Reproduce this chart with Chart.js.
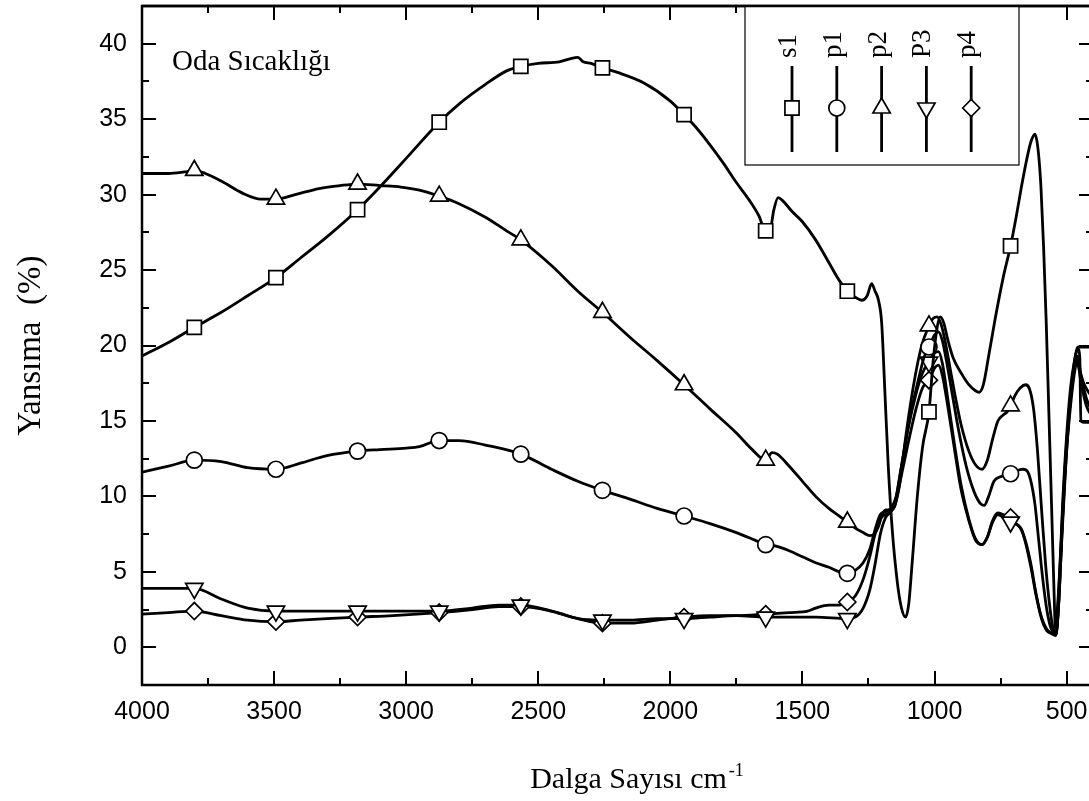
<!DOCTYPE html>
<html><head><meta charset="utf-8">
<script src="https://cdn.jsdelivr.net/npm/chart.js@4.4.1/dist/chart.umd.min.js"></script>
<style>
html,body{margin:0;padding:0;background:#fff;overflow:hidden;}
#wrap{position:absolute;left:0;top:0;width:1100px;height:801px;}
</style></head><body>
<div id="wrap"><canvas id="c" width="1100" height="801" style="width:1100px;height:801px"></canvas></div>
<script>
// ---- data ----
const seriesLabels = ['s1', 'p1', 'p2', 'P3', 'p4'];
const markerWavenumbers = [3802, 3493, 3184, 2875, 2566, 2257, 1948, 1639, 1330, 1021, 712];
const xTickValues = [4000, 3500, 3000, 2500, 2000, 1500, 1000, 500];
const yTickValues = [0, 5, 10, 15, 20, 25, 30, 35, 40];
const chartTitle = 'Oda Sıcaklığı';
const xAxisTitle = 'Dalga Sayısı cm';
const xAxisTitleSup = '-1';
const yAxisTitle = 'Yansıma  (%)';

const s1X = [4000,3900,3802,3700,3600,3493,3400,3300,3184,3100,3000,2875,2800,2700,2620,2566,2500,2420,2380,2350,2330,2300,2257,2200,2100,2000,1948,1900,1850,1800,1750,1700,1665,1639,1622,1608,1592,1575,1540,1500,1450,1400,1360,1330,1300,1275,1255,1238,1225,1212,1200,1188,1175,1160,1140,1125,1110,1098,1085,1065,1045,1021,1005,990,978,965,950,930,900,870,845,831,815,795,770,740,712,690,670,650,635,620,608,597,587,577,567,557,548,541,533,520,505,490,475,462,455,400];
const s1Y = [19.3,20.2,21.2,22.2,23.3,24.5,25.8,27.2,29.0,30.5,32.4,34.8,36.0,37.3,38.2,38.5,38.7,38.8,39.0,39.1,38.8,38.7,38.4,38.1,37.4,36.2,35.3,34.4,33.3,32.1,30.8,29.6,28.6,27.6,27.7,29.0,29.8,29.6,28.9,28.2,27.0,25.5,24.3,23.6,23.2,23.0,23.3,24.1,23.6,23.0,21.5,17.0,12.0,7.8,4.2,2.6,2.0,2.8,5.5,10.0,13.3,15.6,19.0,21.2,21.9,21.5,20.4,19.2,18.2,17.4,17.0,16.9,17.4,19.3,21.8,24.5,26.6,28.6,30.6,32.4,33.5,34.0,33.0,30.5,26.5,21.5,15.5,9.5,4.0,0.8,2.0,6.5,11.5,15.5,18.3,19.7,19.9,19.9];

const p1X = [4000,3900,3802,3700,3600,3493,3400,3300,3184,3100,3000,2950,2875,2800,2700,2566,2450,2350,2257,2150,2050,1948,1850,1750,1680,1639,1600,1550,1500,1450,1400,1360,1330,1300,1270,1245,1225,1205,1185,1165,1145,1120,1090,1060,1040,1021,1000,985,970,955,935,910,880,850,825,812,795,775,750,730,712,690,665,650,635,620,605,590,575,560,545,535,520,505,490,475,462,450,435,420,400];
const p1Y = [11.6,12.0,12.4,12.3,11.9,11.8,12.2,12.7,13.0,13.1,13.2,13.3,13.7,13.7,13.4,12.8,11.8,11.0,10.4,9.8,9.2,8.7,8.2,7.6,7.1,6.8,6.7,6.4,6.0,5.6,5.3,5.0,4.9,5.1,5.6,6.5,7.8,8.8,9.0,9.2,10.0,12.5,15.5,17.8,19.2,19.9,20.7,20.9,20.3,19.0,17.0,14.5,12.0,10.3,9.5,9.4,10.0,11.0,11.3,11.4,11.5,11.7,11.8,11.7,11.0,9.5,7.0,4.5,2.5,1.3,0.9,2.5,7.0,12.0,15.5,18.0,19.0,18.3,17.5,17.0,16.5];

const p2X = [4000,3900,3840,3802,3760,3700,3620,3550,3493,3420,3330,3250,3184,3100,3020,2950,2875,2800,2700,2620,2566,2450,2350,2257,2150,2050,1948,1850,1750,1690,1639,1615,1595,1550,1500,1450,1400,1360,1330,1300,1270,1245,1228,1212,1198,1182,1165,1150,1130,1110,1080,1050,1021,1005,990,975,960,940,920,900,870,845,820,800,780,760,740,725,712,695,675,655,640,625,610,595,580,565,552,541,530,515,500,485,470,458,450,446,430,400];
const p2Y = [31.4,31.4,31.5,31.6,31.4,30.9,30.1,29.7,29.7,30.0,30.4,30.6,30.7,30.6,30.5,30.3,29.9,29.4,28.5,27.6,27.0,25.3,23.6,22.2,20.5,19.0,17.4,15.8,14.2,13.1,12.4,12.9,12.8,12.0,11.0,10.0,9.2,8.7,8.3,7.9,7.6,7.4,7.5,8.0,8.8,9.1,9.1,9.4,11.0,13.8,17.3,19.9,21.3,21.8,21.9,21.4,20.3,18.4,16.5,14.8,13.0,12.1,11.8,12.4,13.8,15.0,15.4,15.6,16.0,16.7,17.2,17.4,17.1,15.8,13.0,9.2,5.6,2.9,1.3,0.8,3.5,9.5,14.0,17.2,19.0,19.8,19.2,15.0,14.9,14.9];

const p3X = [4000,3900,3802,3700,3600,3493,3400,3300,3184,3050,2875,2750,2650,2566,2450,2350,2257,2150,2050,1948,1850,1750,1639,1550,1450,1330,1300,1270,1245,1225,1205,1185,1165,1150,1130,1100,1070,1045,1021,1000,985,970,950,925,900,870,845,820,800,780,760,740,725,712,695,675,655,635,615,595,575,555,541,530,515,500,485,470,460,445,425,400];
const p3Y = [3.9,3.9,3.9,3.2,2.6,2.4,2.4,2.4,2.4,2.4,2.4,2.6,2.8,2.8,2.4,1.9,1.8,1.8,1.9,1.9,2.0,2.1,2.0,2.0,2.0,1.9,2.0,2.6,3.8,5.5,7.5,8.6,9.0,9.5,11.5,14.5,16.8,18.2,18.9,19.5,19.6,18.8,16.5,13.5,10.8,8.5,7.2,6.8,7.3,8.3,8.8,8.6,8.4,8.3,8.2,7.9,7.0,5.5,3.5,2.0,1.2,0.9,0.8,3.0,9.0,13.5,16.5,18.5,19.3,18.0,16.5,15.5];

const p4X = [4000,3900,3802,3700,3600,3493,3400,3300,3184,3050,2875,2750,2650,2566,2450,2350,2257,2150,2050,1948,1850,1750,1639,1550,1480,1450,1400,1360,1330,1300,1270,1245,1225,1205,1185,1165,1150,1130,1100,1070,1045,1021,1000,985,970,950,925,900,870,845,820,800,780,760,740,725,712,700,685,670,655,635,615,595,575,555,541,530,515,500,485,470,460,445,425,400];
const p4Y = [2.2,2.3,2.4,2.1,1.8,1.7,1.8,1.9,2.0,2.1,2.3,2.5,2.7,2.7,2.4,1.9,1.6,1.6,1.8,2.0,2.1,2.1,2.2,2.3,2.4,2.6,2.8,2.8,3.0,3.4,4.5,6.0,7.5,8.5,8.8,9.0,9.4,11.0,13.5,15.8,17.2,17.7,18.5,18.7,18.0,16.0,13.2,10.5,8.4,7.1,6.8,7.3,8.4,8.9,8.8,8.7,8.6,8.3,8.1,7.8,6.9,5.3,3.4,1.9,1.1,0.9,0.8,2.8,8.5,13.0,16.0,18.2,19.0,17.5,16.0,15.2];

// ---- presentation ----
const SERIF = '"Liberation Serif", "Times New Roman", serif';
const SANS = '"Liberation Sans", Arial, sans-serif';
const seriesXs = [s1X, p1X, p2X, p3X, p4X];
const seriesYs = [s1Y, p1Y, p2Y, p3Y, p4Y];
const markerStyles = [
  {pointStyle: 'rect', rotation: 0, radius: 10},
  {pointStyle: 'circle', rotation: 0, radius: 8},
  {pointStyle: 'triangle', rotation: 0, radius: 10},
  {pointStyle: 'triangle', rotation: 180, radius: 10},
  {pointStyle: 'rectRot', rotation: 0, radius: 8.5}
];
const markerSet = new Set(markerWavenumbers);

const datasets = seriesLabels.map((label, i) => ({
  label,
  data: seriesXs[i].map((x, k) => ({x, y: seriesYs[i][k]})),
  borderColor: '#000',
  borderWidth: 2.8,
  backgroundColor: '#fff',
  fill: false,
  cubicInterpolationMode: 'monotone',
  pointStyle: markerStyles[i].pointStyle,
  pointRotation: markerStyles[i].rotation,
  pointRadius: (c) => (c.raw && markerSet.has(c.raw.x)) ? markerStyles[i].radius : 0,
  pointHoverRadius: 0,
  pointBorderWidth: 1.7,
  pointBorderColor: '#000',
  pointBackgroundColor: '#fff'
}));

const decor = {
  id: 'decor',
  afterDraw(chart) {
    const {ctx, chartArea: a, scales: {x, y}} = chart;
    ctx.save();
    ctx.strokeStyle = '#000';
    // ticks (inward, all sides)
    ctx.lineWidth = 2;
    ctx.beginPath();
    for (let v = 500; v < 4000; v += 250) {
      const px = Math.round(x.getPixelForValue(v));
      const len = (v % 500 === 0) ? 14 : 7;
      ctx.moveTo(px, a.bottom); ctx.lineTo(px, a.bottom - len);
      ctx.moveTo(px, a.top); ctx.lineTo(px, a.top + len);
    }
    for (let v = 0; v <= 40; v += 2.5) {
      const py = Math.round(y.getPixelForValue(v));
      const len = (v % 5 === 0) ? 14 : 7;
      ctx.moveTo(a.left, py); ctx.lineTo(a.left + len, py);
      ctx.moveTo(a.right, py); ctx.lineTo(a.right - len, py);
    }
    ctx.stroke();
    // frame
    ctx.lineWidth = 2.5;
    ctx.strokeRect(a.left, a.top, a.right - a.left, a.bottom - a.top);

    // in-plot title
    ctx.fillStyle = '#000';
    ctx.font = '29px ' + SERIF;
    ctx.textAlign = 'left';
    ctx.textBaseline = 'alphabetic';
    ctx.fillText(chartTitle, 172, 70);

    // x axis title with superscript
    ctx.font = '30px ' + SERIF;
    const w1 = ctx.measureText(xAxisTitle).width;
    ctx.font = '18px ' + SERIF;
    const w2 = ctx.measureText(xAxisTitleSup).width;
    const x0 = 637 - (w1 + w2 + 2) / 2;
    ctx.font = '30px ' + SERIF;
    ctx.fillText(xAxisTitle, x0, 788);
    ctx.font = '18px ' + SERIF;
    ctx.fillText(xAxisTitleSup, x0 + w1 + 2, 776);

    // legend box
    const bx = 745, by = a.top, bw = 274, bh = 159;
    ctx.lineWidth = 1.2;
    ctx.fillStyle = '#fff';
    ctx.fillRect(bx, by, bw, bh);
    ctx.strokeRect(bx, by, bw, bh);
    chart.data.datasets.forEach((ds, i) => {
      const cx = 792 + i * 44.8;
      ctx.strokeStyle = '#000';
      ctx.lineWidth = 2.8;
      ctx.beginPath();
      ctx.moveTo(cx, 66); ctx.lineTo(cx, 152);
      ctx.stroke();
      ctx.fillStyle = '#fff';
      ctx.lineWidth = 1.7;
      Chart.helpers.drawPoint(ctx, {
        pointStyle: markerStyles[i].pointStyle,
        rotation: markerStyles[i].rotation,
        radius: markerStyles[i].radius,
        borderWidth: 1.7
      }, cx, 108);
      ctx.save();
      ctx.fillStyle = '#000';
      ctx.font = '27px ' + SERIF;
      ctx.translate(cx + 4, 58);
      ctx.rotate(-Math.PI / 2);
      ctx.textAlign = 'left';
      ctx.textBaseline = 'alphabetic';
      ctx.fillText(ds.label, 0, 0);
      ctx.restore();
    });
    // frame top edge over legend box
    ctx.strokeStyle = '#000';
    ctx.lineWidth = 2.5;
    ctx.beginPath();
    ctx.moveTo(a.left, a.top); ctx.lineTo(a.right, a.top);
    ctx.stroke();
    ctx.restore();
  }
};

new Chart(document.getElementById('c'), {
  type: 'line',
  data: {datasets},
  plugins: [decor],
  options: {
    responsive: false,
    animation: false,
    devicePixelRatio: 1,
    events: [],
    layout: {padding: {top: 6, right: 7, left: 0, bottom: 0}},
    plugins: {legend: {display: false}, tooltip: {enabled: false}, title: {display: false}},
    scales: {
      x: {
        type: 'linear', reverse: true, min: 400, max: 4000,
        afterBuildTicks: (s) => { s.ticks = xTickValues.map(v => ({value: v})); },
        afterFit: (s) => { s.height = 116; s.paddingLeft = 0; s.paddingRight = 0; s.paddingTop = 0; s.paddingBottom = 0; },
        grid: {display: false, drawTicks: false},
        border: {display: false},
        ticks: {font: {family: SANS, size: 25}, color: '#000', padding: 12, maxRotation: 0, autoSkip: false,
                callback: (v) => String(v)}
      },
      y: {
        type: 'linear', min: -2.5, max: 42.5,
        afterBuildTicks: (s) => { s.ticks = yTickValues.map(v => ({value: v})); },
        afterFit: (s) => { s.width = 142; s.paddingLeft = 0; s.paddingRight = 0; s.paddingTop = 0; s.paddingBottom = 0; },
        grid: {display: false, drawTicks: false},
        border: {display: false},
        ticks: {font: {family: SANS, size: 25}, color: '#000', padding: 15, autoSkip: false,
                callback: (v) => String(v)},
        title: {display: true, text: yAxisTitle, color: '#000', font: {family: SERIF, size: 33}, padding: {top: 12, bottom: 0}}
      }
    }
  }
});
</script>
</body></html>
